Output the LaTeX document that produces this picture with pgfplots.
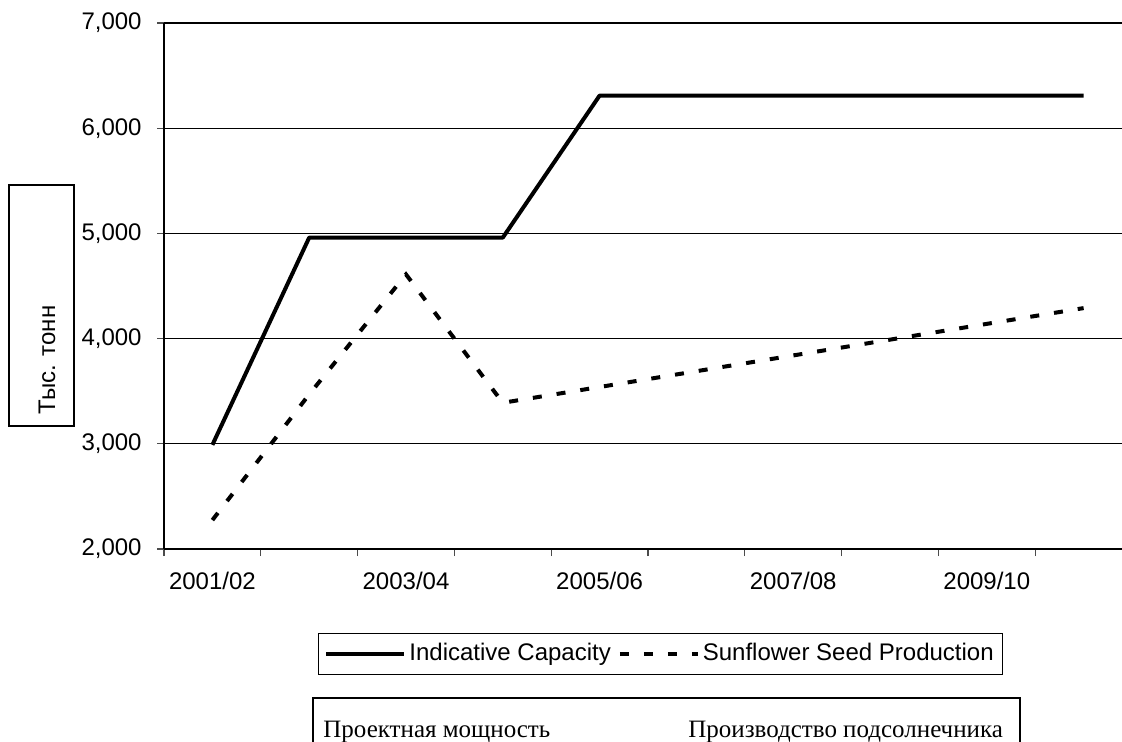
\documentclass[border=0pt]{standalone}
\usepackage{pgfplots}
\pgfplotsset{compat=1.18}
\usepackage{fontspec}
\setmainfont{Liberation Sans}
\newfontfamily\serifcyr{Liberation Serif}
\begin{document}
\fontsize{12}{14}\selectfont
\begin{tikzpicture}
\useasboundingbox (0,0) rectangle (561pt,-371pt);
\clip (0,0) rectangle (561pt,-371pt);
\begin{axis}[
  at={(82pt,-274.5pt)}, anchor=south west,
  scale only axis, width=484pt, height=263pt,
  xmin=-0.5, xmax=9.5, ymin=2000, ymax=7000,
  axis x line*=bottom, axis y line*=left,
  axis line style={black, line width=1pt},
  ytick={2000,3000,4000,5000,6000,7000},
  ymajorgrids, major grid style={black, line width=0.6pt},
  xtick={0,2,4,6,8},
  xticklabels={2001/02,2003/04,2005/06,2007/08,2009/10},
  minor xtick={-0.5,0.5,1.5,2.5,3.5,4.5,5.5,6.5,7.5,8.5,9.5},
  tick align=outside,
  major tick length=3.5pt, minor tick length=3.5pt,
  major x tick style={draw=none},
  minor x tick style={black!70, line width=0.6pt},
  ytick style={black!70, line width=0.6pt},
  /pgf/number format/assume math mode=true,
  /pgf/number format/1000 sep={,},
  scaled y ticks=false,
  tick label style={font=\fontsize{12}{14}\selectfont},
  yticklabel style={anchor=east, inner sep=0pt, xshift=-7.5pt},
  xticklabel style={anchor=north, inner sep=0pt, yshift=-8pt},
  legend columns=2,
  legend style={at={(0.513,-0.1996)}, anchor=center, draw=black, line width=0.6pt,
    font=\fontsize{12}{14}\selectfont, inner xsep=3pt, inner ysep=3pt,
    nodes={inner xsep=1.5pt},
    /tikz/every even column/.append style={column sep=2pt}},
  legend image code/.code={\draw[#1] (0pt,0pt) -- (39pt,0pt);},
]
\addplot[black, line width=2pt, line join=round] coordinates {
 (0,2990) (1,4960) (2,4960) (3,4960) (4,6310) (5,6310) (6,6310) (7,6310) (8,6310) (9,6310)};
\addlegendentry{Indicative Capacity}
\addplot[black, line width=2pt, dash pattern=on 4.5pt off 7.5pt] coordinates {
 (0,2275) (1,3470) (2,4610) (3,3390) (4,3540) (5,3690) (6,3840) (7,3990) (8,4140) (9,4290)};
\addlegendentry{Sunflower Seed Production}
\end{axis}
\draw[line width=0.6pt] (4.5pt,-92.5pt) rectangle (37pt,-213pt);
\node[rotate=90, anchor=base west, inner sep=0pt] at (27.5pt,-207.5pt) {Тыс. тонн};
\draw[line width=0.6pt] (156.5pt,-349pt) rectangle (510pt,-380pt);
\node[anchor=base west, inner sep=0pt, font=\serifcyr\fontsize{12.5}{14}\selectfont] at (161.5pt,-368.5pt) {Проектная мощность};
\node[anchor=base west, inner sep=0pt, font=\serifcyr\fontsize{12.5}{14}\selectfont] at (344pt,-368.5pt) {Производство подсолнечника};
\end{tikzpicture}
\end{document}
